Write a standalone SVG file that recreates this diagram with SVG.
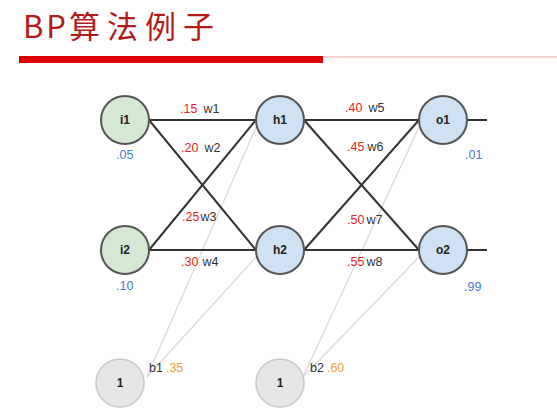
<svg xmlns="http://www.w3.org/2000/svg" width="557" height="413" viewBox="0 0 557 413">
<style>
.edge{stroke:#333;stroke-width:2;fill:none}
.bedge{stroke:#d9d9d9;stroke-width:1.2;fill:none}
.node{stroke:#555;stroke-width:2}
.in{fill:#d5e8d4}
.hid{fill:#cfe2f3}
.bias{fill:#e6e6e6;stroke:#c8c8c8;stroke-width:1.5}
.nl{font-family:"Liberation Sans",Arial,sans-serif;font-size:12px;font-weight:bold;fill:#222;text-anchor:middle}
.t{font-family:"Liberation Sans",Arial,sans-serif;font-size:12.5px}
.r{fill:#ee1c25}
.k{fill:#333}
.b{fill:#4a7bd0}
.o{fill:#f5a030}
</style>
<rect width="557" height="413" fill="#fff"/>
<g id="title">
<text x="23" y="38" font-family="'Noto Sans CJK SC','Noto Sans',sans-serif" font-size="31" fill="#b51a1a"><tspan letter-spacing="3">BP</tspan><tspan letter-spacing="7">算法例子</tspan></text>
<rect x="19" y="56" width="304" height="7" fill="#dd0000"/>
<line x1="323" y1="57" x2="557" y2="57" stroke="#e8a8a8" stroke-width="1"/>
</g>
<g id="connectors">
<line class="bedge" x1="147" y1="377" x2="257" y2="125"/>
<line class="bedge" x1="147" y1="377" x2="257" y2="256"/>
<line class="bedge" x1="303" y1="377" x2="420" y2="125"/>
<line class="bedge" x1="303" y1="377" x2="420" y2="256"/>
<line class="edge" x1="149" y1="120" x2="256" y2="120"/>
<line class="edge" x1="149" y1="120" x2="256" y2="250"/>
<line class="edge" x1="149" y1="250" x2="256" y2="120"/>
<line class="edge" x1="149" y1="250" x2="256" y2="250"/>
<line class="edge" x1="304" y1="120" x2="419" y2="120"/>
<line class="edge" x1="304" y1="120" x2="419" y2="250"/>
<line class="edge" x1="304" y1="250" x2="419" y2="120"/>
<line class="edge" x1="304" y1="250" x2="419" y2="250"/>
<line class="edge" x1="467" y1="120" x2="487" y2="120"/>
<line class="edge" x1="467" y1="250" x2="487" y2="250"/>
</g>
<g id="i1"><circle class="node in" cx="125" cy="120" r="24"/><text class="nl" x="125" y="124">i1</text></g>
<g id="i2"><circle class="node in" cx="125" cy="250" r="24"/><text class="nl" x="125" y="254">i2</text></g>
<g id="h1"><circle class="node hid" cx="280" cy="120" r="24"/><text class="nl" x="280" y="124">h1</text></g>
<g id="h2"><circle class="node hid" cx="280" cy="250" r="24"/><text class="nl" x="280" y="254">h2</text></g>
<g id="o1"><circle class="node hid" cx="443" cy="120" r="24"/><text class="nl" x="443" y="124">o1</text></g>
<g id="o2"><circle class="node hid" cx="443" cy="250" r="24"/><text class="nl" x="443" y="254">o2</text></g>
<g id="b1"><circle class="bias" cx="120" cy="383" r="24"/><text class="nl" x="120" y="387">1</text></g>
<g id="b2"><circle class="bias" cx="280" cy="383" r="24"/><text class="nl" x="280" y="387">1</text></g>
<g id="labels">
<text class="t" x="180" y="113"><tspan class="r">.15</tspan><tspan class="k" dx="6">w1</tspan></text>
<text class="t" x="181" y="152"><tspan class="r">.20</tspan><tspan class="k" dx="6">w2</tspan></text>
<text class="t" x="182" y="221"><tspan class="r">.25</tspan><tspan class="k" dx="1">w3</tspan></text>
<text class="t" x="181" y="266"><tspan class="r">.30</tspan><tspan class="k" dx="4">w4</tspan></text>
<text class="t" x="345" y="112"><tspan class="r">.40</tspan><tspan class="k" dx="6">w5</tspan></text>
<text class="t" x="347" y="151"><tspan class="r">.45</tspan><tspan class="k" dx="3">w6</tspan></text>
<text class="t" x="347" y="224"><tspan class="r">.50</tspan><tspan class="k" dx="2">w7</tspan></text>
<text class="t" x="347" y="266"><tspan class="r">.55</tspan><tspan class="k" dx="2">w8</tspan></text>
<text class="t b" x="116" y="159">.05</text>
<text class="t b" x="116" y="290">.10</text>
<text class="t b" x="465" y="159">.01</text>
<text class="t b" x="464" y="291">.99</text>
<text class="t" x="149" y="372"><tspan class="k">b1</tspan><tspan class="o" dx="3">.35</tspan></text>
<text class="t" x="310" y="372"><tspan class="k">b2</tspan><tspan class="o" dx="3">.60</tspan></text>
</g>
</svg>
